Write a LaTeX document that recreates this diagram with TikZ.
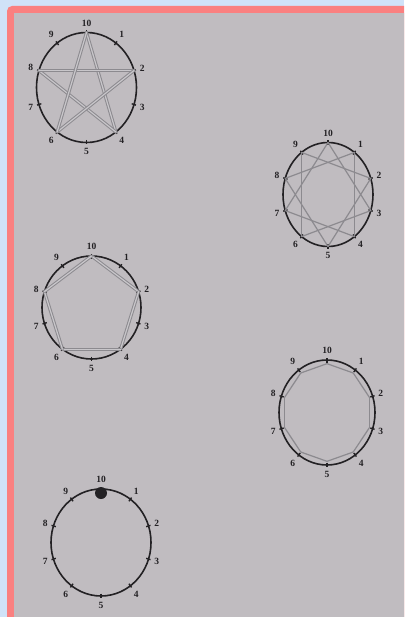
\documentclass[tikz,border=0pt]{standalone}
\usepackage{fontspec}
\setmainfont{Liberation Serif}
\usetikzlibrary{calc, positioning}
\usepackage{xcolor}

\definecolor{skyback}{RGB}{208,226,248}
\definecolor{framepink}{RGB}{250,128,128}
\definecolor{paper}{RGB}{192,188,192}
\definecolor{ink}{RGB}{35,33,36}
\definecolor{strand}{RGB}{140,138,143}
\definecolor{strandlight}{RGB}{200,198,202}

\tikzset{
  dialline/.style={draw=ink, line width=1.6pt},
  tickmark/.style={draw=ink, line width=1.4pt},
  numlabel/.style={text=ink, font=\fontsize{9.5}{10}\selectfont\bfseries, inner sep=0.8pt},
  thickstring/.style={draw=strand, line width=3.2pt, line cap=round},
  thickcore/.style={draw=strandlight, line width=1.2pt, line cap=round},
  thinstring/.style={draw=strand, line width=1.2pt, line cap=round},
  bead/.style={circle, fill=ink, minimum size=12pt, inner sep=0pt}
}

% one dial: name, centre x, centre y, x radius, y radius
\newcommand{\dial}[5]{%
  \coordinate (#1-c) at (#2,#3);
  \draw[dialline] (#1-c) ellipse [x radius=#4, y radius=#5];
  \foreach \k in {1,...,10}{%
    \pgfmathtruncatemacro{\ang}{90-36*\k}%
    \pgfmathtruncatemacro{\opp}{mod(630-36*\k,360)}%
    \coordinate (#1-\k) at ($(#1-c)+(\ang:#4 and #5)$);
    \coordinate (#1-i\k) at ($(#1-c)+(\ang:{0.93*#4} and {0.93*#5})$);
    \draw[tickmark] ($(#1-c)+(\ang:{#4-2.5} and {#5-2.5})$) -- ($(#1-c)+(\ang:{#4+2} and {#5+2})$);
    \node[numlabel, anchor=\opp] (#1-n\k) at ($(#1-c)+(\ang:{#4+5} and {#5+5})$) {\k};
  }%
}

\begin{document}
\begin{tikzpicture}[x=1pt, y=1pt]
  \useasboundingbox (0,0) rectangle (404,-617);
  \clip (0,0) rectangle (404,-617);

  % backdrop and frame
  \fill[skyback] (0,0) rectangle (404,-617);
  \fill[framepink, rounded corners=5pt] (7,-6) rectangle (430,-640);
  \fill[paper] (14,-13) rectangle (430,-640);

  % the five dials
  \dial{A}{86.5}{-87.5}{50}{55}
  \dial{B}{328}{-194.5}{45}{52}
  \dial{C}{91.5}{-307.5}{49.5}{51.5}
  \dial{D}{327}{-412.5}{48}{52.5}
  \dial{E}{101}{-542.5}{50}{53.5}

  % star, every fourth peg
  \foreach \a/\b in {10/4,4/8,8/2,2/6,6/10}{
    \draw[thickstring] (A-\a) -- (A-\b);
    \draw[thickcore] (A-\a) -- (A-\b);
  }

  % ten-point star, every third peg
  \foreach \a/\b in {10/3,3/6,6/9,9/2,2/5,5/8,8/1,1/4,4/7,7/10}
    \draw[thinstring] (B-\a) -- (B-\b);

  % pentagon, every second peg
  \foreach \a/\b in {10/2,2/4,4/6,6/8,8/10}{
    \draw[thickstring] (C-\a) -- (C-\b);
    \draw[thickcore] (C-\a) -- (C-\b);
  }

  % decagon, every peg
  \foreach \a/\b in {10/1,1/2,2/3,3/4,4/5,5/6,6/7,7/8,8/9,9/10}
    \draw[thinstring] (D-i\a) -- (D-i\b);

  % bead at the top peg
  \node[bead] (bead) at ($(E-10)+(0,-4)$) {};
\end{tikzpicture}
\end{document}
